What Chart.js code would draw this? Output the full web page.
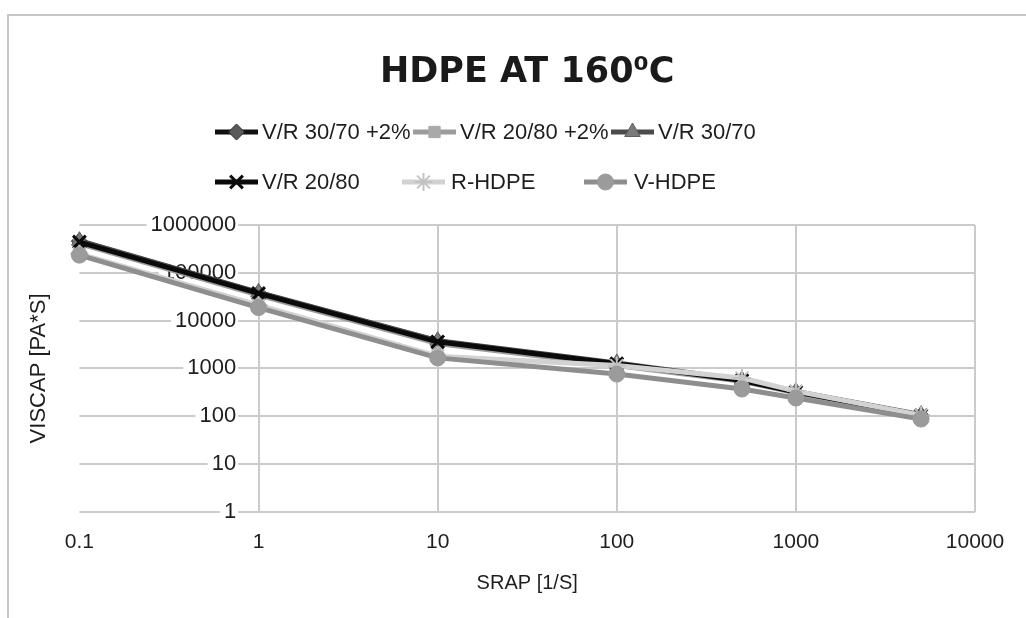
<!DOCTYPE html>
<html>
<head>
<meta charset="utf-8">
<script src="https://cdn.jsdelivr.net/npm/chart.js@4.4.1/dist/chart.umd.min.js"></script>
<style>
  html, body { margin: 0; padding: 0; background: #fff; }
  #wrap { position: relative; width: 1026px; height: 618px; }
</style>
</head>
<body>
<div id="wrap"><canvas id="chart" width="1026" height="618"></canvas></div>
<script>
// shear rate points and axis ticks
var shearRates = [0.1, 1, 10, 100, 500, 1000, 5000];
var xTickValues = [0.1, 1, 10, 100, 1000, 10000];
var yTickValues = [1, 10, 100, 1000, 10000, 100000, 1000000];

var seriesNames = ['V/R 30/70 +2%', 'V/R 20/80 +2%', 'V/R 30/70', 'V/R 20/80', 'R-HDPE', 'V-HDPE'];

// viscosity values [Pa*s]
var vr3070Plus2 = [460000, 38000, 3700, 1250, 560, 320, 105];
var vr2080Plus2 = [410000, 34000, 3300, 1150, 540, 310, 100];
var vr3070 = [470000, 39000, 3800, 1300, 580, 330, 108];
var vr2080 = [440000, 37000, 3600, 1250, 560, 320, 104];
var rHdpe = [250000, 21000, 1800, 1150, 630, 335, 105];
var vHdpe = [234000, 18700, 1660, 760, 370, 240, 87];

var seriesValues = [vr3070Plus2, vr2080Plus2, vr3070, vr2080, rHdpe, vHdpe];

var FONT = '"Liberation Sans", Arial, sans-serif';
var TEXT_COLOR = '#1e1e1e';
var GRID_COLOR = '#cbcbcb';
var FRAME_COLOR = '#c6c6c6';

var seriesStyles = [
  { line: '#111111', fill: '#5a5a5a', border: '#2a2a2a', point: 'rectRot', r: 8, bw: 1 },
  { line: '#9c9c9c', fill: '#a9a9a9', border: '#a9a9a9', point: 'rect', r: 8, bw: 1 },
  { line: '#4b4b4b', fill: '#7a7a7a', border: '#5e5e5e', point: 'triangle', r: 9, bw: 1 },
  { line: '#0a0a0a', fill: '#0a0a0a', border: '#0a0a0a', point: 'crossRot', r: 9, bw: 3 },
  { line: '#d2d2d2', fill: '#c8c8c8', border: '#c2c2c2', point: 'star', r: 9, bw: 2 },
  { line: '#8e8e8e', fill: '#9b9b9b', border: '#9b9b9b', point: 'circle', r: 8, bw: 1 }
];

// legend slots (line start, row centre, text start)
var LEGEND_LINE = 43;
var legendSlots = [
  { x: 215, y: 132, tx: 262 },
  { x: 413, y: 132, tx: 460 },
  { x: 611, y: 132, tx: 658 },
  { x: 215, y: 182, tx: 262 },
  { x: 402, y: 182, tx: 451 },
  { x: 584, y: 182, tx: 634 }
];

var datasets = seriesNames.map(function (name, i) {
  var st = seriesStyles[i];
  return {
    label: name,
    data: shearRates.map(function (x, j) { return { x: x, y: seriesValues[i][j] }; }),
    borderColor: st.line,
    borderWidth: 5,
    pointStyle: st.point,
    pointRadius: st.r,
    pointBackgroundColor: st.fill,
    pointBorderColor: st.border,
    pointBorderWidth: st.bw,
    tension: 0,
    clip: false,
    order: seriesNames.length - 1 - i
  };
});

var framePlugin = {
  id: 'frame',
  beforeDraw: function (chart) {
    var ctx = chart.ctx;
    ctx.save();
    ctx.fillStyle = '#fff';
    ctx.fillRect(0, 0, chart.width, chart.height);
    ctx.strokeStyle = FRAME_COLOR;
    ctx.lineWidth = 2;
    ctx.beginPath();
    ctx.moveTo(8, chart.height);
    ctx.lineTo(8, 15);
    ctx.lineTo(chart.width, 15);
    ctx.stroke();
    ctx.restore();
  }
};

var legendPlugin = {
  id: 'excelLegend',
  afterDraw: function (chart) {
    var ctx = chart.ctx;
    chart.data.datasets.forEach(function (ds, i) {
      var slot = legendSlots[i];
      ctx.save();
      ctx.strokeStyle = ds.borderColor;
      ctx.lineWidth = ds.borderWidth;
      ctx.beginPath();
      ctx.moveTo(slot.x, slot.y);
      ctx.lineTo(slot.x + LEGEND_LINE, slot.y);
      ctx.stroke();
      ctx.fillStyle = ds.pointBackgroundColor;
      ctx.strokeStyle = ds.pointBorderColor;
      ctx.lineWidth = ds.pointBorderWidth;
      Chart.helpers.drawPoint(ctx, { pointStyle: ds.pointStyle, radius: ds.pointRadius, borderWidth: ds.pointBorderWidth, rotation: 0 }, slot.x + LEGEND_LINE / 2, slot.y);
      ctx.fillStyle = TEXT_COLOR;
      ctx.font = '22px ' + FONT;
      ctx.textAlign = 'left';
      ctx.textBaseline = 'middle';
      ctx.fillText(ds.label, slot.tx, slot.y + 1);
      ctx.restore();
    });
  }
};

new Chart(document.getElementById('chart'), {
  type: 'line',
  data: { datasets: datasets },
  plugins: [framePlugin, legendPlugin],
  options: {
    responsive: false,
    animation: false,
    layout: { padding: { left: 8, right: 51, top: 0, bottom: 8 } },
    plugins: {
      legend: { display: false },
      tooltip: { enabled: false },
      title: {
        display: true,
        fullSize: false,
        text: 'HDPE AT 160\u2070C',
        color: '#1a1a1a',
        font: { family: '"DejaVu Sans"', size: 35, weight: 'bold' },
        padding: { top: 52, bottom: 131 }
      }
    },
    scales: {
      x: {
        type: 'logarithmic',
        position: 'bottom',
        min: 0.1,
        max: 10000,
        afterBuildTicks: function (axis) {
          axis.ticks = xTickValues.map(function (v) { return { value: v }; });
        },
        ticks: {
          callback: function (v) { return String(v); },
          color: TEXT_COLOR,
          font: { family: FONT, size: 21 },
          padding: 18,
          maxRotation: 0,
          autoSkip: false
        },
        grid: {
          color: function (c) { return c.tick && c.tick.value === 0.1 ? 'rgba(0,0,0,0)' : GRID_COLOR; },
          lineWidth: 2,
          drawTicks: false
        },
        border: { display: false },
        title: {
          display: true,
          text: 'SRAP [1/S]',
          color: TEXT_COLOR,
          font: { family: FONT, size: 20 },
          padding: { top: -2, bottom: 15 }
        }
      },
      y: {
        type: 'logarithmic',
        min: 1,
        max: 1000000,
        // labels sit just left of the x = 1 gridline, as in the original
        position: { x: 0.75 },
        afterBuildTicks: function (axis) {
          axis.ticks = yTickValues.map(function (v) { return { value: v }; });
        },
        ticks: {
          callback: function (v) { return String(v); },
          color: TEXT_COLOR,
          font: { family: FONT, size: 22 },
          padding: 0,
          showLabelBackdrop: true,
          backdropColor: '#ffffff',
          backdropPadding: { top: 0, bottom: 0, left: 4, right: 2 },
          autoSkip: false
        },
        grid: {
          color: GRID_COLOR,
          lineWidth: 2,
          drawTicks: false
        },
        border: { display: false }
      },
      yTitle: {
        type: 'linear',
        axis: 'y',
        position: 'left',
        display: true,
        grid: { display: false, drawTicks: false },
        border: { display: false },
        ticks: { display: false },
        title: {
          display: true,
          text: 'VISCAP [PA*S]',
          color: TEXT_COLOR,
          font: { family: FONT, size: 22 },
          padding: { top: 18, bottom: 27 }
        }
      }
    }
  }
});
</script>
</body>
</html>
